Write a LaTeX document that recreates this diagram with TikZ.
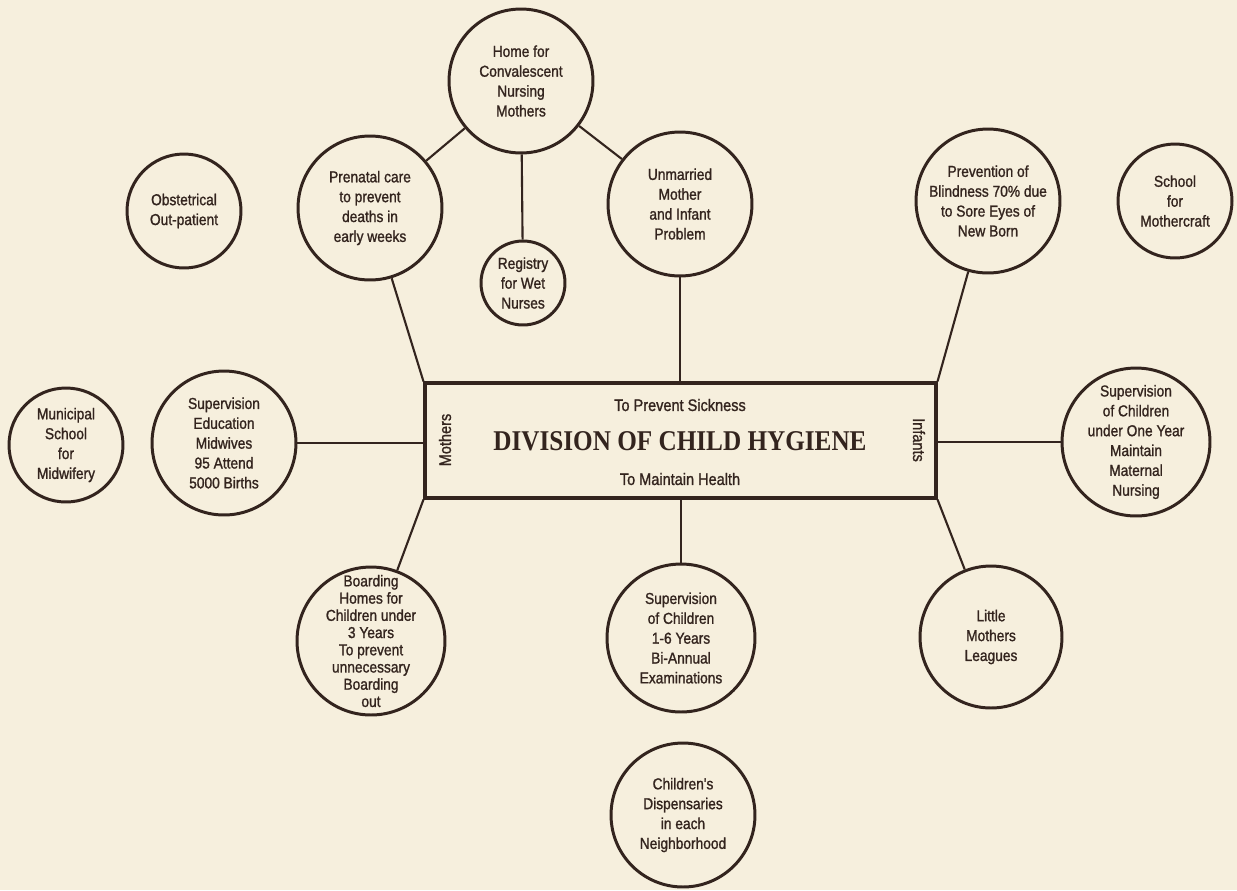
\documentclass[tikz,border=0pt]{standalone}
\usepackage{fontspec}
\setmainfont{Liberation Sans}
\newfontfamily\labfont[FakeStretch=0.87,FakeBold=1.2]{Liberation Sans}
\newfontfamily\titfont[FakeStretch=0.88]{Liberation Serif}
\definecolor{bg}{HTML}{F6EFDD}
\definecolor{ink}{HTML}{33241E}
\begin{document}
\begin{tikzpicture}[x=0.02cm,y=-0.02cm,
  bub/.style={circle,draw=ink,line width=1.7pt,inner sep=0pt},
  lab/.style={align=center,inner sep=0pt,text=ink,font=\labfont\fontsize{9}{11.3}\selectfont},
  labt/.style={align=center,inner sep=0pt,text=ink,font=\labfont\fontsize{9}{9.8}\selectfont},
  boxtxt/.style={inner sep=0pt,text=ink,font=\labfont\fontsize{9.5}{11}\selectfont},
  link/.style={draw=ink,line width=1.2pt}]
\fill[bg] (0,0) rectangle (1237,890);
\useasboundingbox (0,0) rectangle (1237,890);

% central box
\node[draw=ink,line width=1.8pt,minimum width=10.22cm,minimum height=2.3cm,inner sep=0pt] (hq) at (680.5,440.5) {};
\node[boxtxt] (prevs) at (680,405) {To Prevent Sickness};
\node[inner sep=0pt,text=ink,font=\titfont\bfseries\fontsize{16.3}{18}\selectfont] (title) at (680,441) {DIVISION OF CHILD HYGIENE};
\node[boxtxt] (maint) at (680,479) {To Maintain Health};
\node[boxtxt,rotate=90] (moth) at (445,440) {Mothers};
\node[boxtxt,rotate=-90] (inf) at (919,440) {Infants};

% circles
\node[bub,minimum size=2.88cm,label={[lab]center:{Home for\\Convalescent\\Nursing\\Mothers}}] (home) at (521,81) {};
\node[bub,minimum size=2.88cm,label={[lab]center:{Prenatal care\\to prevent\\deaths in\\early weeks}}] (pren) at (370,208) {};
\node[bub,minimum size=1.68cm,label={[lab]center:{Registry\\for Wet\\Nurses}}] (reg) at (523,283) {};
\node[bub,minimum size=2.88cm,label={[lab]center:{Unmarried\\Mother\\and Infant\\Problem}}] (unm) at (680,204) {};
\node[bub,minimum size=2.88cm,label={[lab]center:{Prevention of\\Blindness 70\% due\\to Sore Eyes of\\New Born}}] (blind) at (988,201) {};
\node[bub,minimum size=2.28cm,label={[lab]center:{School\\for\\Mothercraft}}] (school) at (1175,201) {};
\node[bub,minimum size=2.28cm,label={[lab]center:{Obstetrical\\Out-patient}}] (obst) at (184,211) {};
\node[bub,minimum size=2.28cm,label={[lab]center:{Municipal\\School\\for\\Midwifery}}] (muni) at (66,445) {};
\node[bub,minimum size=2.88cm,label={[lab]center:{Supervision\\Education\\Midwives\\95 Attend\\5000 Births}}] (supedu) at (224,443) {};
\node[bub,minimum size=2.96cm,label={[lab]center:{Supervision\\of Children\\under One Year\\Maintain\\Maternal\\Nursing}}] (supone) at (1136,442) {};
\node[bub,minimum size=2.96cm,label={[labt]center:{Boarding\\Homes for\\Children under\\3 Years\\To prevent\\unnecessary\\Boarding\\out}}] (board) at (371,641) {};
\node[bub,minimum size=2.96cm,label={[lab]center:{Supervision\\of Children\\1-6 Years\\Bi-Annual\\Examinations}}] (supsix) at (681,638) {};
\node[bub,minimum size=2.84cm,label={[lab]center:{Little\\Mothers\\Leagues}}] (little) at (991,637) {};
\node[bub,minimum size=2.88cm,label={[lab]center:{Children's\\Dispensaries\\in each\\Neighborhood}}] (disp) at (683,815) {};

% connectors
\draw[link] (home) -- (pren);
\draw[link] (home) -- (unm);
\draw[link] (home) -- (reg);
\draw[link] (pren) -- (hq.north west);
\draw[link] (unm) -- (unm |- hq.north);
\draw[link] (blind) -- (hq.north east);
\draw[link] (supedu) -- (supedu -| hq.west);
\draw[link] (supone) -- (supone -| hq.east);
\draw[link] (board) -- (hq.south west);
\draw[link] (supsix) -- (supsix |- hq.south);
\draw[link] (little) -- (hq.south east);
\end{tikzpicture}
\end{document}
